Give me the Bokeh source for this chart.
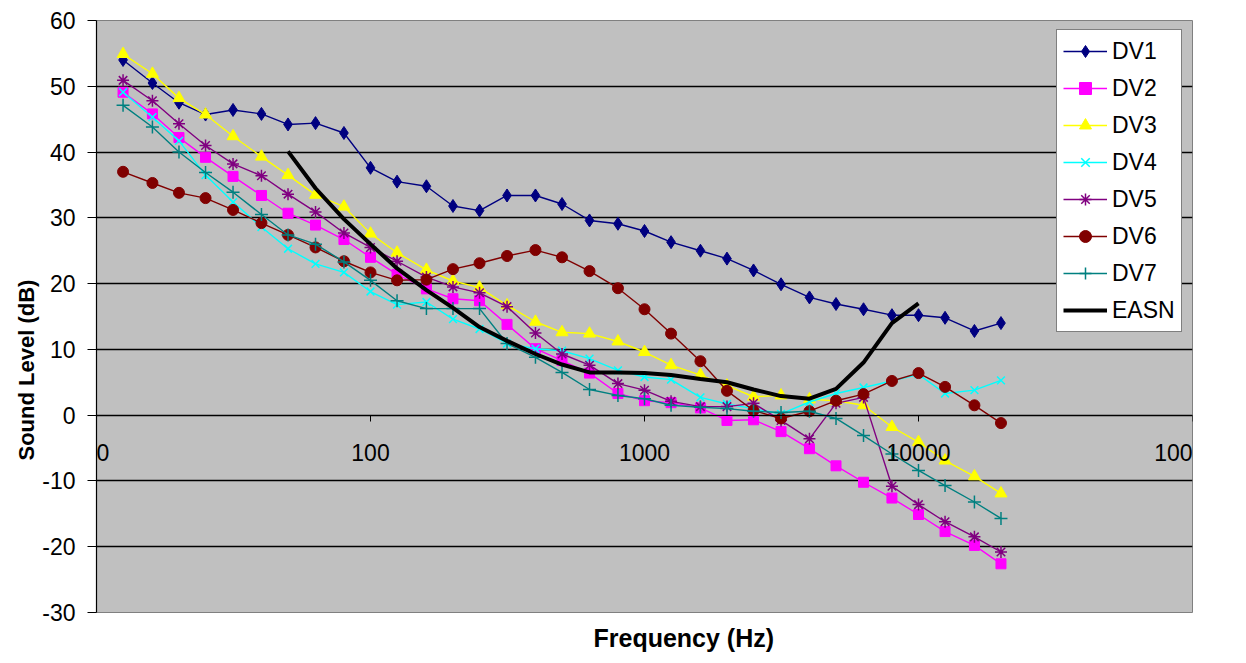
from bokeh.plotting import figure
from bokeh.models import FixedTicker, Legend, Title, CustomJSTickFormatter, Label
from bokeh.embed import file_html
from bokeh.resources import INLINE

freqs = [12.5, 16, 20, 25, 31.5, 40, 50, 63, 80, 100, 125, 160, 200, 250, 315, 400, 500,
         630, 800, 1000, 1250, 1600, 2000, 2500, 3150, 4000, 5000, 6300, 8000, 10000,
         12500, 16000, 20000]

dv1 = [54.0, 50.5, 47.5, 45.7, 46.4, 45.8, 44.2, 44.4, 42.9, 37.6, 35.5, 34.8, 31.8, 31.1, 33.4,
       33.4, 32.1, 29.6, 29.1, 28.0, 26.3, 25.0, 23.8, 22.0, 19.9, 17.9, 16.9, 16.1, 15.2, 15.2,
       14.8, 12.8, 14.0]
dv2 = [49.1, 45.8, 42.2, 39.2, 36.3, 33.4, 30.7, 28.9, 26.7, 24.0, 21.4, 19.2, 17.7, 17.4, 13.8,
       10.1, 8.3, 6.4, 3.3, 2.2, 1.9, 1.1, -0.8, -0.7, -2.5, -5.1, -7.7, -10.2, -12.6, -15.1,
       -17.7, -19.8, -22.6]
dv3 = [54.9, 51.9, 48.2, 45.7, 42.4, 39.3, 36.5, 33.5, 31.7, 27.6, 24.7, 22.1, 20.4, 19.4, 16.7,
       14.2, 12.6, 12.4, 11.2, 9.6, 7.6, 6.1, 4.5, 2.8, 3.0, 2.4, 2.2, 1.5, -1.8, -4.1,
       -6.9, -9.3, -11.9]
dv4 = [49.1, 45.3, 41.7, 36.5, 32.4, 28.6, 25.3, 23.0, 21.7, 18.8, 16.8, 17.2, 14.6, 13.1, 10.9,
       10.1, 9.8, 8.6, 6.8, 5.8, 5.4, 2.7, 1.7, 1.0, 0.2, 2.0, 3.3, 4.2, 5.2, 6.2,
       3.3, 3.8, 5.3]
dv5 = [50.9, 47.8, 44.3, 41.0, 38.2, 36.4, 33.6, 30.9, 27.7, 25.5, 23.4, 21.0, 19.5, 18.6, 16.5,
       12.5, 9.3, 7.6, 4.8, 3.8, 2.1, 1.3, 1.3, 1.8, -0.8, -3.6, 1.8, 2.7, -10.8, -13.6,
       -16.2, -18.5, -20.8]
dv6 = [37.0, 35.3, 33.8, 33.0, 31.2, 29.2, 27.4, 25.5, 23.4, 21.7, 20.5, 20.6, 22.2, 23.1, 24.2,
       25.1, 24.0, 21.9, 19.3, 16.1, 12.4, 8.2, 3.7, 0.7, -0.5, 0.6, 2.2, 3.2, 5.2, 6.4,
       4.3, 1.5, -1.2]
dv7 = [47.1, 43.8, 40.0, 36.9, 33.9, 30.5, 27.4, 26.0, 23.3, 20.5, 17.4, 16.2, 16.2, 16.2, 10.9,
       8.8, 6.5, 3.9, 3.0, 2.5, 1.5, 1.2, 1.0, 0.6, 0.4, 0.6, -0.5, -3.1, -5.9, -8.4,
       -10.7, -13.2, -15.7]

easn_freqs = [50, 63, 80, 100, 125, 160, 200, 250, 315, 400, 500, 630, 800, 1000, 1250, 1600,
              2000, 2500, 3150, 4000, 5000, 6300, 8000, 10000]
easn = [40.1, 34.5, 29.8, 26.0, 22.3, 19.0, 16.3, 13.4, 11.3, 9.3, 7.7, 6.5, 6.5, 6.4, 6.1, 5.5,
        5.0, 3.9, 2.9, 2.5, 4.0, 8.0, 14.0, 17.0]

x_ticks = [10, 100, 1000, 10000, 100000]
x_tick_labels = ["10", "100", "1000", "10000", "100000"]
y_ticks = [-30, -20, -10, 0, 10, 20, 30, 40, 50, 60]

FONT = "Liberation Sans"

p = figure(width=1246, height=663, x_axis_type="log", x_range=(10, 100000), y_range=(-30, 60),
           output_backend="svg", toolbar_location=None,
           min_border_left=96, min_border_right=54, min_border_top=20, min_border_bottom=51)

p.background_fill_color = "#C0C0C0"
p.border_fill_color = "white"
p.outline_line_color = "#808080"
p.outline_line_width = 1

p.xgrid.visible = False
p.ygrid.grid_line_color = "black"
p.ygrid.grid_line_width = 1.4
p.ygrid.ticker = FixedTicker(ticks=y_ticks)

# x axis crosses at y = 0; its tick labels are Label annotations
xa = p.xaxis[0]
xa.ticker = FixedTicker(ticks=x_ticks)
xa.fixed_location = 0
xa.axis_line_color = "black"
xa.axis_line_width = 1.2
xa.major_tick_out = 6
xa.major_tick_in = 0
xa.minor_tick_line_color = None
xa.major_label_text_font_size = "0px"
xa.major_label_text_color = None

for xt, lab in zip(x_ticks, x_tick_labels):
    p.add_layout(Label(x=xt, y=0, text=lab, y_offset=-37, text_align="center",
                       text_baseline="middle", text_font=FONT, text_font_size="23px",
                       text_color="black", level="overlay"))

ya = p.yaxis[0]
ya.ticker = FixedTicker(ticks=y_ticks)
ya.formatter = CustomJSTickFormatter(code="return String(tick);")
ya.axis_line_color = "black"
ya.axis_line_width = 1.2
ya.major_tick_out = 9
ya.major_tick_in = 0
ya.minor_tick_line_color = None
ya.major_label_text_font = FONT
ya.major_label_text_font_size = "23px"
ya.major_label_text_color = "black"
ya.major_label_standoff = 12

p.add_layout(Title(text="Sound Level (dB)", align="left", offset=152, text_font=FONT,
                   text_font_size="22px", text_font_style="bold", text_color="black",
                   standoff=2), "left")

p.add_layout(Title(text="Frequency (Hz)", align="left", offset=497, text_font=FONT,
                   text_font_size="25px", text_font_style="bold", text_color="black",
                   standoff=19), "below")

series = [
    ("DV1", dv1, "#000080", "diamond", 13),
    ("DV2", dv2, "#FF00FF", "square", 10),
    ("DV3", dv3, "#FFFF00", "triangle", 12),
    ("DV4", dv4, "#00FFFF", "x", 11),
    ("DV5", dv5, "#800080", "asterisk", 12),
    ("DV6", dv6, "#800000", "circle", 11),
    ("DV7", dv7, "#008080", "cross", 13),
]

items = []
for name, vals, color, marker, size in series:
    r1 = p.line(freqs, vals, line_color=color, line_width=1.4)
    if marker in ("x", "asterisk", "cross"):
        r2 = p.scatter(freqs, vals, marker=marker, size=size, line_color=color, line_width=1.5,
                       fill_color=color)
    else:
        r2 = p.scatter(freqs, vals, marker=marker, size=size, line_color=color, fill_color=color)
    items.append((name, [r1, r2]))

r_e = p.line(easn_freqs, easn, line_color="black", line_width=4)
items.append(("EASN", [r_e]))

legend = Legend(items=items, location=(960, 280), label_text_font=FONT,
                label_text_font_size="23px", label_text_color="black",
                glyph_width=44, glyph_height=30, label_height=30, spacing=7,
                padding=6, label_standoff=5, margin=0,
                border_line_color="black", border_line_width=1.2,
                background_fill_color="white", background_fill_alpha=1.0)
p.add_layout(legend)

open("out.html", "w").write(file_html(p, INLINE))
